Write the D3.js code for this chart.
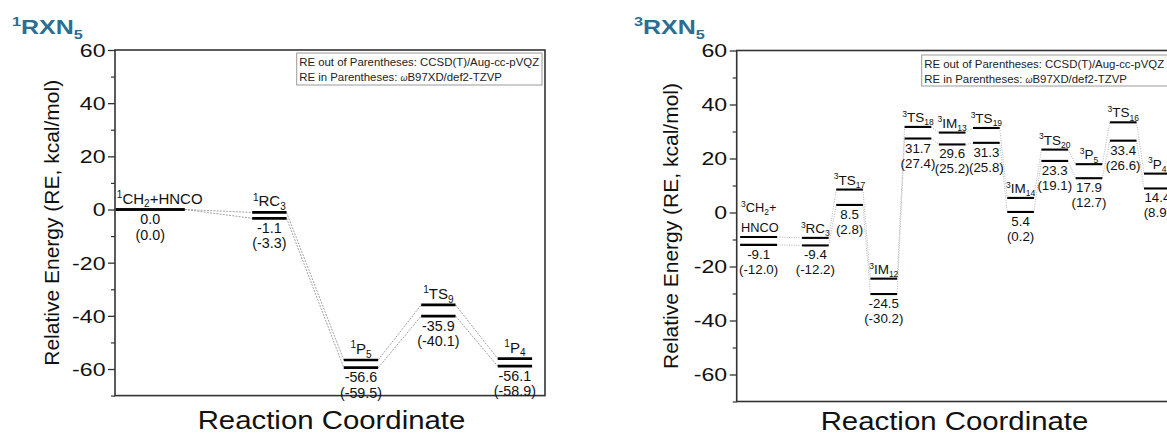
<!DOCTYPE html>
<html><head><meta charset="utf-8">
<script src="https://cdn.jsdelivr.net/npm/d3@7"></script>
<style>
body{margin:0;background:#fff}
svg{display:block}
text{font-family:"Liberation Sans", Arial, Helvetica, sans-serif}
</style>
</head><body>
<svg id="c" width="1167" height="438"></svg>
<script>
// ---------------- DATA ----------------
const s1Title = "^{1}RXN_{5}";
const s1States = ["^{1}CH_{2}+HNCO", "^{1}RC_{3}", "^{1}P_{5}", "^{1}TS_{9}", "^{1}P_{4}"];
const s1Coord  = [0.82, 3.59, 5.72, 7.52, 9.30];
const s1CCSD   = [0.0, -1.1, -56.6, -35.9, -56.1];
const s1DFT    = [0.0, -3.3, -59.5, -40.1, -58.9];

const s3Title = "^{3}RXN_{5}";
const s3States = ["^{3}CH_{2}+|HNCO", "^{3}RC_{3}", "^{3}TS_{17}", "^{3}IM_{12}", "^{3}TS_{18}", "^{3}IM_{13}",
                  "^{3}TS_{19}", "^{3}IM_{14}", "^{3}TS_{20}", "^{3}P_{5}", "^{3}TS_{16}", "^{3}P_{4}"];
const s3Coord  = [0.64, 2.3, 3.3, 4.3, 5.3, 6.3, 7.3, 8.3, 9.3, 10.3, 11.3, 12.3];
const s3CCSD   = [-9.1, -9.4, 8.5, -24.5, 31.7, 29.6, 31.3, 5.4, 23.3, 17.9, 33.4, 14.4];
const s3DFT    = [-12.0, -12.2, 2.8, -30.2, 27.4, 25.2, 25.8, 0.2, 19.1, 12.7, 26.6, 8.9];

const yMajorTicks = [-60, -40, -20, 0, 20, 40, 60];
const yMinorTicks = [-70, -50, -30, -10, 10, 30, 50];
const yDomain = [-70, 60];
const yTitle = "Relative Energy (RE, kcal/mol)";
const xTitle = "Reaction Coordinate";
const legendLine1 = "RE out of Parentheses: CCSD(T)/Aug-cc-pVQZ";
const legendLine2a = "RE in Parentheses: ";
const legendLine2b = "ω";
const legendLine2c = "B97XD/def2-TZVP";

// ---------------- LAYOUT ----------------
const SX = 1.25; // horizontal stretch of axis text
const titleColor = "#2e6d92";
const panels = [
  { title: s1Title, states: s1States, coord: s1Coord, hi: s1CCSD, lo: s1DFT,
    fx0: 115, fx1: 545, fy0: 50, fy1: 395.6, xDomain: [0, 10], xRange: [115, 545],
    levelW: 0.8, firstW: 1.6, lvlStroke: 2.7, labelSize: 15, scriptSize: 10, valSize: 14.3,
    labelOff: -6, val1: 14.5, val2: 30, 
    conn: { stroke: "#8a8a8a", w: 0.8, dash: "2,1.2" },
    titleX: 12, titleY: 34, yTitleX: 52, xTitleX: 331.5, xTitleY: 429,
    legend: { x: 296.7, y: 53, w: 245.3, h: 32 } },
  { title: s3Title, states: s3States, coord: s3Coord, hi: s3CCSD, lo: s3DFT,
    fx0: 736.7, fx1: 1172, fy0: 50.5, fy1: 401.5, xDomain: [0, 13], xRange: [736.7, 1181.3],
    levelW: 0.78, firstW: 1.08, lvlStroke: 2.1, labelSize: 13.5, scriptSize: 8.5, valSize: 13.3,
    labelOff: -5, val1: 14, val2: 29,
    conn: { stroke: "#b5b5b5", w: 1, dash: "1,1.4" },
    titleX: 634, titleY: 34, yTitleX: 671, xTitleX: 954.5, xTitleY: 430,
    legend: { x: 921.7, y: 55, w: 300, h: 31 } }
];

const svg = d3.select("#c");

function rich(sel, str, mainSize, scriptSize) {
  const re = /\^\{([^}]*)\}|_\{([^}]*)\}|([^^_]+)/g;
  let m, cur = 0;
  while ((m = re.exec(str)) !== null) {
    let target = 0, txt, size = mainSize;
    if (m[1] !== undefined) { target = -mainSize * 0.38; txt = m[1]; size = scriptSize; }
    else if (m[2] !== undefined) { target = mainSize * 0.25; txt = m[2]; size = scriptSize; }
    else { txt = m[3]; }
    sel.append("tspan").attr("dy", (target - cur).toFixed(2)).attr("font-size", size).text(txt);
    cur = target;
  }
}

panels.forEach(p => {
  const x = d3.scaleLinear().domain(p.xDomain).range(p.xRange);
  const y = d3.scaleLinear().domain(yDomain).range([p.fy1, p.fy0]);
  const g = svg.append("g");

  // panel title
  const t = g.append("text").attr("transform", `translate(${p.titleX},${p.titleY}) scale(${SX},1)`)
    .attr("fill", titleColor).attr("font-weight", "bold").attr("font-size", 20);
  rich(t, p.title, 20, 13);

  // frame
  g.append("rect").attr("x", p.fx0).attr("y", p.fy0).attr("width", p.fx1 - p.fx0).attr("height", p.fy1 - p.fy0)
    .attr("fill", "none").attr("stroke", "#333").attr("stroke-width", 1.6);

  // y axes (major + minor)
  const axG = g.append("g").attr("transform", `translate(${p.fx0},0)`)
    .call(d3.axisLeft(y).tickValues(yMajorTicks).tickSize(7).tickFormat(d => String(d)));
  axG.select(".domain").remove();
  axG.selectAll("line").attr("stroke", "#333").attr("stroke-width", 1.3);
  axG.selectAll("text").attr("x", null).attr("dy", "0.35em").attr("font-size", 18.5).attr("fill", "#111")
    .attr("font-family", '"Liberation Sans", Arial, sans-serif')
    .attr("transform", `translate(-9.5,0) scale(${SX},1)`);
  const mnG = g.append("g").attr("transform", `translate(${p.fx0},0)`)
    .call(d3.axisLeft(y).tickValues(yMinorTicks).tickSize(4).tickFormat(""));
  mnG.select(".domain").remove();
  mnG.selectAll("line").attr("stroke", "#333").attr("stroke-width", 1.2);

  // axis titles
  g.append("text").attr("transform", `translate(${p.yTitleX},${(p.fy0 + p.fy1) / 2}) rotate(-90)`)
    .attr("text-anchor", "middle").attr("dy", "0.35em").attr("font-size", 21).attr("fill", "#111").text(yTitle);
  g.append("text").attr("transform", `translate(${p.xTitleX},${p.xTitleY}) scale(${SX * 0.94},1)`)
    .attr("text-anchor", "middle").attr("font-size", 25).attr("fill", "#111").text(xTitle);

  // legend
  const L = p.legend;
  g.append("rect").attr("x", L.x).attr("y", L.y).attr("width", L.w).attr("height", L.h)
    .attr("fill", "#fff").attr("stroke", "#9a9a9a").attr("stroke-width", 1);
  g.append("text").attr("x", L.x + 2.5).attr("y", L.y + 13).attr("font-size", 11.4).attr("fill", "#222").text(legendLine1);
  const l2 = g.append("text").attr("x", L.x + 2.5).attr("y", L.y + 27.5).attr("font-size", 11.4).attr("fill", "#222");
  l2.append("tspan").text(legendLine2a);
  l2.append("tspan").attr("font-style", "italic").attr("font-size", 9).text(legendLine2b);
  l2.append("tspan").text(legendLine2c);

  // level geometry
  const n = p.states.length;
  const idx = d3.range(n);
  const half = i => (i === 0 ? p.firstW : p.levelW) / 2;
  const xs = i => x(p.coord[i] - half(i));
  const xe = i => x(p.coord[i] + half(i));

  // connectors
  [p.hi, p.lo].forEach(series => {
    g.selectAll(null).data(idx.slice(0, n - 1)).join("line")
      .attr("x1", i => xe(i)).attr("y1", i => y(series[i]))
      .attr("x2", i => xs(i + 1)).attr("y2", i => y(series[i + 1]))
      .attr("stroke", p.conn.stroke).attr("stroke-width", p.conn.w).attr("stroke-dasharray", p.conn.dash);
  });

  // levels
  [p.hi, p.lo].forEach(series => {
    g.selectAll(null).data(idx).join("line")
      .attr("x1", i => xs(i)).attr("x2", i => xe(i))
      .attr("y1", i => y(series[i])).attr("y2", i => y(series[i]))
      .attr("stroke", "#000").attr("stroke-width", p.lvlStroke);
  });

  // labels
  idx.forEach(i => {
    const top = y(Math.max(p.hi[i], p.lo[i]));
    const bot = y(Math.min(p.hi[i], p.lo[i]));
    const cx = x(p.coord[i]);
    const lines = p.states[i].split("|");
    lines.forEach((ln, k) => {
      const ty = top + p.labelOff - (lines.length - 1 - k) * 20;
      const small = lines.length > 1;
      const sz = small ? 12.8 : p.labelSize;
      const tt = g.append("text").attr("y", ty).attr("fill", "#111").attr("font-size", sz);
      if (i === 0) tt.attr("x", xs(i) + 1).attr("text-anchor", "start");
      else tt.attr("x", cx).attr("text-anchor", "middle");
      rich(tt, ln, sz, p.scriptSize);
    });
    g.append("text").attr("x", cx).attr("y", bot + p.val1).attr("text-anchor", "middle")
      .attr("font-size", p.valSize).attr("fill", "#111").text(p.hi[i].toFixed(1));
    g.append("text").attr("x", cx).attr("y", bot + p.val2).attr("text-anchor", "middle")
      .attr("font-size", p.valSize).attr("fill", "#111").text("(" + p.lo[i].toFixed(1) + ")");
  });
});
</script>
</body></html>
